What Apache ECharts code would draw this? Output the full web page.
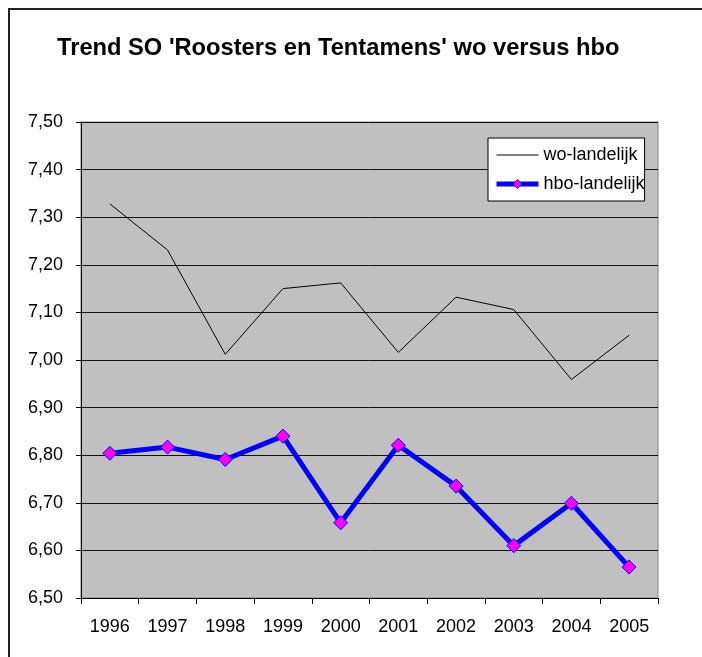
<!DOCTYPE html>
<html>
<head>
<meta charset="utf-8">
<script src="https://cdn.jsdelivr.net/npm/echarts@6/dist/echarts.min.js"></script>
<style>html,body{margin:0;padding:0;background:#fff;}#c{width:702px;height:657px;}</style>
</head>
<body>
<div id="c"></div>
<script>
var titleText = "Trend SO 'Roosters en Tentamens' wo versus hbo";
var years = ['1996','1997','1998','1999','2000','2001','2002','2003','2004','2005'];
var woName = 'wo-landelijk';
var hboName = 'hbo-landelijk';
var woValues = [7.328, 7.231, 7.012, 7.150, 7.162, 7.016, 7.132, 7.106, 6.959, 7.052];
var hboValues = [6.804, 6.817, 6.791, 6.840, 6.658, 6.821, 6.735, 6.610, 6.699, 6.565];
var yMin = 6.5, yMax = 7.5, yStep = 0.1;

var font = "'Liberation Sans', Arial, sans-serif";
var chart = echarts.init(document.getElementById('c'), null, {renderer: 'canvas'});
chart.setOption({
  backgroundColor: '#ffffff',
  animation: false,
  textStyle: {fontFamily: font},
  title: {
    text: titleText,
    left: 57, top: 36, padding: 0,
    textStyle: {fontFamily: font, fontSize: 23.7, fontWeight: 'bold', color: '#000'}
  },
  graphic: [{
    type: 'rect', silent: true, z: -1,
    shape: {x: 9, y: 9, width: 900, height: 900},
    style: {fill: 'none', stroke: '#222', lineWidth: 2}
  }],
  legend: {
    orient: 'vertical',
    left: 488, top: 138,
    padding: [8, 0, 8, 6],
    itemGap: 11,
    itemWidth: 42, itemHeight: 11,
    backgroundColor: '#ffffff',
    borderColor: '#000', borderWidth: 1,
    textStyle: {fontFamily: font, fontSize: 18, color: '#000', padding: [0, 0, 0, 0]},
    data: [
      {name: woName, itemStyle: {color: 'transparent', borderColor: 'transparent', borderWidth: 0}, lineStyle: {width: 1, color: '#000'}},
      {name: hboName, lineStyle: {width: 5, color: '#0000FF'}, itemStyle: {color: '#FF00FF', borderColor: '#0000FF', borderWidth: 1}}
    ]
  },
  grid: {
    left: 81, right: 44, top: 122, bottom: 59,
    show: true, backgroundColor: '#C0C0C0', borderColor: '#808080', borderWidth: 1
  },
  xAxis: {
    type: 'category', data: years, boundaryGap: true,
    axisLine: {lineStyle: {color: '#000', width: 1}},
    axisTick: {show: true, length: 6, lineStyle: {color: '#000'}},
    axisLabel: {fontFamily: font, fontSize: 18, color: '#000', margin: 20},
    splitLine: {show: false}
  },
  yAxis: {
    type: 'value', min: yMin, max: yMax, interval: yStep,
    axisLine: {show: true, lineStyle: {color: '#000', width: 1}},
    axisTick: {show: true, length: 5, lineStyle: {color: '#000'}},
    axisLabel: {fontFamily: font, fontSize: 18, color: '#000', margin: 18,
      formatter: function (v) { return v.toFixed(2).replace('.', ','); }},
    splitLine: {show: true, lineStyle: {color: '#111', width: 1}}
  },
  series: [
    {
      name: woName, type: 'line', data: woValues,
      symbol: 'none', showSymbol: false,
      lineStyle: {color: '#000', width: 1}, itemStyle: {color: '#000'}
    },
    {
      name: hboName, type: 'line', data: hboValues,
      symbol: 'diamond', symbolSize: 14, showSymbol: true,
      lineStyle: {color: '#0000FF', width: 5},
      itemStyle: {color: '#FF00FF', borderColor: '#0000FF', borderWidth: 1}
    }
  ]
});
</script>
</body>
</html>
